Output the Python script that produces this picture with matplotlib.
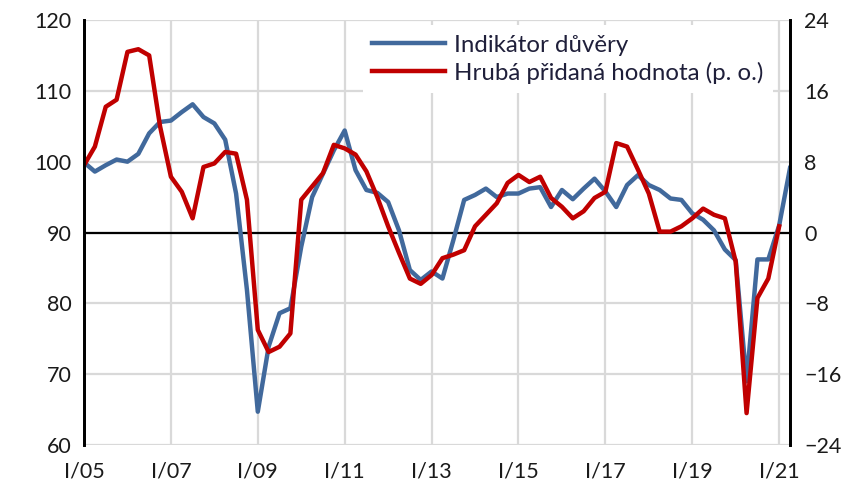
import matplotlib.pyplot as plt
import numpy as np

plt.rcParams['font.family'] = ['Lato', 'DejaVu Sans']

# quarterly data, I/2005 .. II/2021
years = [5, 7, 9, 11, 13, 15, 17, 19, 21]
tick_labels = ["I/%02d" % y for y in years]

confidence = [99.9, 98.6, 99.5, 100.3, 100.0, 101.1, 104.0, 105.6, 105.8, 107.0,
              108.1, 106.3, 105.4, 103.1, 95.5, 81.9, 64.7, 73.9, 78.6, 79.3,
              88.0, 95.0, 98.3, 101.6, 104.4, 98.8, 96.0, 95.6, 94.3, 90.3,
              84.7, 83.3, 84.5, 83.5, 88.9, 94.6, 95.3, 96.2, 95.0, 95.5,
              95.5, 96.2, 96.4, 93.6, 96.0, 94.7, 96.2, 97.6, 95.8, 93.6,
              96.7, 98.1, 96.7, 96.0, 94.8, 94.6, 92.7, 91.8, 90.3, 87.6,
              86.1, 69.0, 86.2, 86.2, 91.0, 99.1]

gva = [7.6, 9.7, 14.2, 15.0, 20.4, 20.7, 20.0, 12.0, 6.3, 4.6,
       1.6, 7.4, 7.8, 9.1, 8.9, 3.7, -11.0, -13.5, -12.9, -11.4,
       3.7, 5.2, 6.7, 9.9, 9.5, 8.8, 6.9, 4.0, 0.7, -2.3,
       -5.2, -5.8, -4.8, -2.9, -2.5, -2.0, 0.7, 2.0, 3.3, 5.6,
       6.5, 5.7, 6.3, 3.9, 2.9, 1.6, 2.4, 3.9, 4.6, 10.1,
       9.7, 7.1, 4.4, 0.1, 0.1, 0.7, 1.6, 2.7, 2.0, 1.6,
       -3.3, -20.4, -7.4, -5.2, 0.7]

blue = '#41699c'
red = '#c00000'
txt = '#1a1a1a'

fig = plt.figure(figsize=(8.59, 4.94), dpi=100)
ax = fig.add_axes([0.0978, 0.0992, 0.8219, 0.8603])
ax2 = ax.twinx()

x1 = np.arange(len(confidence))
x2 = np.arange(len(gva))

ax.set_xlim(0, len(confidence) - 1)
ax.set_ylim(60, 120)
ax.set_yticks(np.arange(60, 121, 10))
ax.set_xticks(np.arange(0, len(confidence), 8))
ax.set_xticklabels(tick_labels)
ax.grid(True, color='#d9d9d9', lw=1.6)
ax.set_axisbelow(True)
ax.axhline(90, color='black', lw=1.6, zorder=1.5)

l1, = ax.plot(x1, confidence, color=blue, lw=3.2, solid_joinstyle='round', zorder=2)

ax2.set_ylim(-24, 24)
ax2.set_yticks(np.arange(-24, 25, 8))
l2, = ax2.plot(x2, gva, color=red, lw=3.2, solid_joinstyle='round')

for a in (ax, ax2):
    a.spines['top'].set_visible(False)
    a.spines['bottom'].set_visible(False)
    a.spines['left'].set_linewidth(2)
    a.spines['right'].set_linewidth(2)
    a.tick_params(length=0, labelsize=15.5, colors=txt, pad=9)

ax.tick_params(axis='x', pad=12)
ax2.tick_params(axis='y', pad=10)

leg = ax2.legend([l1, l2], ["Indikátor důvěry", "Hrubá přidaná hodnota (p. o.)"],
                 loc='upper left', bbox_to_anchor=(0.395, 0.988), fontsize=17.3,
                 frameon=True, facecolor='white', edgecolor='none', framealpha=1,
                 handlelength=3.0, handletextpad=0.38, borderaxespad=0,
                 labelspacing=0.25, fancybox=False)
for t in leg.get_texts():
    t.set_color('#1f1f3a')

fig.savefig('out.png', dpi=100)
